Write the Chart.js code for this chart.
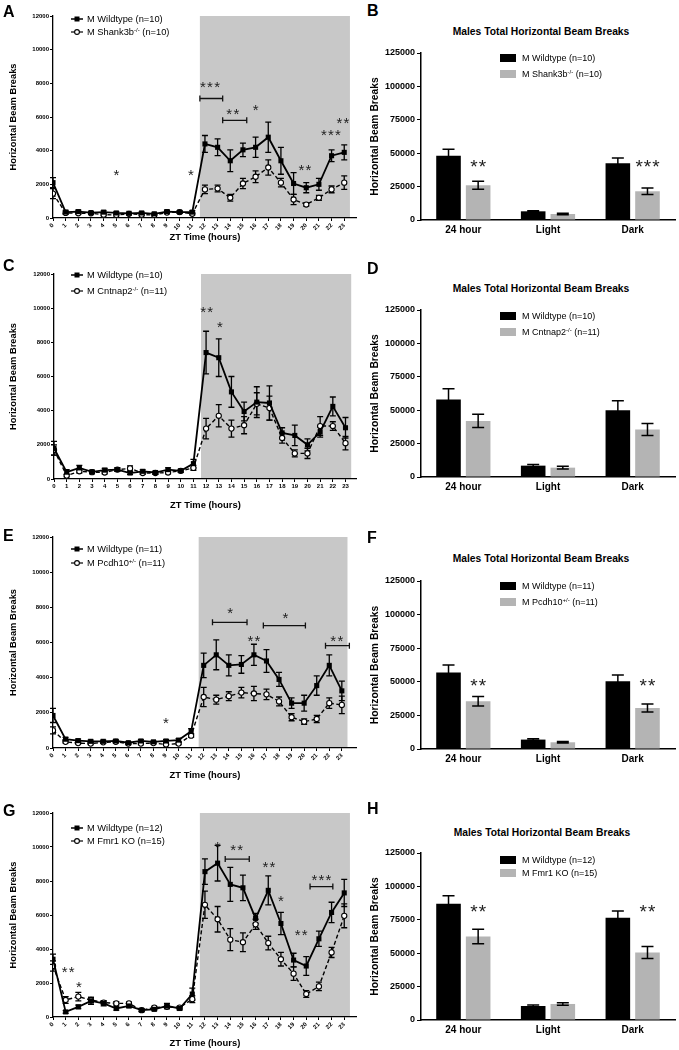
<!DOCTYPE html>
<html>
<head>
<meta charset="utf-8">
<title>Horizontal beam breaks</title>
<script src="https://cdn.jsdelivr.net/npm/chart.js@4.4.1/dist/chart.umd.min.js"></script>
<style>
  body { margin: 0; background: #fff; font-family: 'Liberation Sans', Arial, sans-serif; }
  #page { position: relative; width: 679px; height: 1050px; overflow: hidden; }
  canvas { position: absolute; }
  .letter { position: absolute; font-size: 16px; line-height: 16px; font-weight: bold; }
  .title { position: absolute; font-size: 10.3px; font-weight: bold; white-space: nowrap; transform: translate(-50%, -50%); }
  .leg { position: absolute; height: 12px; line-height: 12px; display: flex; align-items: center; white-space: nowrap; font-size: 9.3px; }
  .leg svg { margin-right: 4px; }
  .bleg { font-size: 9px; }
  .box { width: 16px; height: 8px; margin-right: 6px; }
  sup { font-size: 6px; line-height: 0; vertical-align: 3px; }
</style>
</head>
<body>
<div id="page">
  <canvas id="chartA" width="362" height="248" style="left:0;top:0"></canvas>
  <canvas id="chartC" width="362" height="257" style="left:0;top:258px"></canvas>
  <canvas id="chartE" width="362" height="264" style="left:0;top:521px"></canvas>
  <canvas id="chartG" width="362" height="253" style="left:0;top:797px"></canvas>
  <canvas id="chartB" width="317" height="195" style="left:362px;top:45px"></canvas>
  <canvas id="chartD" width="317" height="195" style="left:362px;top:302px"></canvas>
  <canvas id="chartF" width="317" height="196" style="left:362px;top:573px"></canvas>
  <canvas id="chartH" width="317" height="195" style="left:362px;top:845px"></canvas>

  <div class="letter" style="left:3px;top:4px">A</div>
  <div class="letter" style="left:3px;top:258px">C</div>
  <div class="letter" style="left:3px;top:528px">E</div>
  <div class="letter" style="left:3px;top:803px">G</div>
  <div class="letter" style="left:367px;top:3px">B</div>
  <div class="letter" style="left:367px;top:261px">D</div>
  <div class="letter" style="left:367px;top:530px">F</div>
  <div class="letter" style="left:367px;top:801px">H</div>

  <div class="title" style="left:541px;top:31px">Males Total Horizontal Beam Breaks</div>
  <div class="title" style="left:541px;top:288px">Males Total Horizontal Beam Breaks</div>
  <div class="title" style="left:541px;top:558px">Males Total Horizontal Beam Breaks</div>
  <div class="title" style="left:542px;top:832px">Males Total Horizontal Beam Breaks</div>

  <div id="legends"></div>
</div>

<script>
// ZT hours
const hours = [0, 1, 2, 3, 4, 5, 6, 7, 8, 9, 10, 11, 12, 13, 14, 15, 16, 17, 18, 19, 20, 21, 22, 23];
const darkPhase = [11.6, 23.45, 12000];

// A - Shank3b
const aWt = [2100, 350, 380, 320, 350, 300, 280, 300, 250, 380, 350, 350, 4400, 4200, 3400, 4050, 4200, 4800, 3400, 2050, 1800, 2000, 3700, 3900];
const aWtErr = [300, 100, 80, 60, 70, 80, 60, 60, 60, 80, 70, 80, 500, 500, 650, 400, 600, 900, 800, 650, 300, 350, 350, 450];
const aKo = [1450, 300, 280, 280, 200, 180, 250, 200, 180, 320, 350, 250, 1700, 1750, 1200, 2050, 2450, 3000, 2100, 1100, 800, 1200, 1700, 2100];
const aKoErr = [300, 60, 50, 50, 50, 50, 50, 50, 50, 60, 60, 60, 250, 200, 200, 300, 350, 450, 250, 300, 100, 150, 200, 400];
const aStars = [[5, 2800, '*'], [10.9, 2750, '*'], [12.4, 8000, '***'], [14.2, 6400, '**'], [16, 6650, '*'], [19.9, 3100, '**'], [21.95, 5130, '***'], [22.9, 5880, '**']];
const aBrackets = [[11.6, 13.4, 7100], [13.4, 15.3, 5800]];

// C - Cntnap2
const cWt = [1800, 400, 650, 420, 520, 550, 350, 450, 380, 550, 480, 900, 7400, 7100, 5100, 3950, 4500, 4450, 2700, 2550, 2000, 2750, 4250, 3000];
const cWtErr = [400, 150, 150, 80, 100, 100, 80, 80, 80, 100, 80, 250, 1250, 1100, 900, 550, 900, 1000, 300, 600, 350, 300, 550, 600];
const cKo = [1700, 200, 450, 400, 380, 550, 620, 350, 350, 380, 480, 650, 2950, 3700, 2950, 3150, 4400, 4150, 2400, 1500, 1500, 3100, 3100, 2100];
const cKoErr = [300, 80, 100, 80, 80, 100, 150, 80, 80, 80, 80, 150, 600, 650, 500, 500, 650, 700, 300, 200, 300, 550, 250, 400];
const cStars = [[12.05, 9990, '**'], [13.1, 9110, '*']];
const cBrackets = [];

// E - Pcdh10
const eWt = [1850, 500, 420, 380, 380, 400, 300, 400, 350, 400, 450, 950, 4700, 5300, 4700, 4750, 5300, 4950, 3900, 2550, 2550, 3550, 4700, 3250];
const eWtErr = [400, 100, 80, 70, 70, 70, 60, 70, 60, 80, 80, 150, 700, 850, 600, 500, 600, 650, 400, 300, 450, 550, 600, 550];
const eKo = [1000, 350, 280, 250, 320, 350, 250, 250, 280, 200, 250, 700, 2900, 2750, 2950, 3150, 3100, 3050, 2650, 1750, 1500, 1650, 2550, 2450];
const eKoErr = [200, 60, 50, 50, 50, 50, 50, 50, 50, 50, 50, 100, 550, 250, 250, 300, 400, 300, 250, 200, 150, 200, 300, 500];
const eStars = [[9, 1650, '*'], [14.1, 7870, '*'], [16, 6310, '**'], [18.5, 7620, '*'], [22.6, 6310, '**']];
const eBrackets = [[12.7, 15.45, 7150], [16.75, 20.1, 6960], [21.7, 23.6, 5820]];

// G - Fmr1
const gWt = [3400, 300, 600, 950, 800, 500, 650, 400, 450, 650, 500, 1350, 8550, 9050, 7800, 7600, 5800, 7450, 5500, 3350, 3000, 4600, 6150, 7300];
const gWtErr = [300, 80, 100, 200, 150, 100, 100, 80, 80, 150, 100, 350, 750, 1050, 1000, 750, 300, 850, 650, 400, 550, 450, 600, 800];
const gKo = [3000, 1000, 1200, 1000, 850, 800, 800, 400, 550, 600, 550, 1050, 6600, 5750, 4550, 4400, 5450, 4350, 3400, 2550, 1350, 1800, 3800, 5950];
const gKoErr = [300, 200, 250, 150, 100, 100, 80, 80, 80, 100, 80, 200, 800, 750, 650, 550, 300, 400, 400, 400, 200, 250, 300, 700];
const gStars = [[1.2, 2890, '**'], [2.05, 1970, '*'], [13, 10230, '*'], [14.5, 10030, '**'], [17.05, 9050, '**'], [18, 7040, '*'], [19.6, 5020, '**'], [21.2, 8260, '***']];
const gBrackets = [[13.6, 15.5, 9290], [20.3, 22.1, 7670]];

// totals (bar panels)
const barCats = ['24 hour', 'Light', 'Dark'];
const bWt = [48000, 6500, 42500], bWtErr = [5000, 500, 4000];
const bKo = [26000, 4500, 21500], bKoErr = [3000, 500, 2500];
const bStars = [[0, 43400, '**'], [2, 43400, '***']];
const dWt = [58000, 8500, 50000], dWtErr = [8000, 800, 7000];
const dKo = [42000, 7000, 35500], dKoErr = [5000, 1000, 4500];
const dStars = [];
const fWt = [57000, 7000, 50500], fWtErr = [5500, 600, 4500];
const fKo = [35500, 5000, 30500], fKoErr = [3500, 500, 3000];
const fStars = [[0, 50600, '**'], [2, 50600, '**']];
const hWt = [87000, 10500, 76500], hWtErr = [6000, 800, 5000];
const hKo = [62500, 12000, 50500], hKoErr = [5500, 1000, 4500];
const hStars = [[0, 84600, '**'], [2, 84600, '**']];

Chart.defaults.font.family = "'Liberation Sans', Arial, sans-serif";
Chart.defaults.color = '#000';

function drawErrors(chart, o) {
  const ctx = chart.ctx, y = chart.scales.y;
  ctx.save();
  ctx.strokeStyle = '#000';
  ctx.lineWidth = o.errWidth;
  chart.data.datasets.forEach((ds, i) => {
    if (!ds.errors) return;
    chart.getDatasetMeta(i).data.forEach((el, j) => {
      const d = ds.data[j];
      const v = typeof d === 'object' ? d.y : d;
      const e = ds.errors[j];
      const top = y.getPixelForValue(v + e), bot = y.getPixelForValue(Math.max(v - e, 0));
      ctx.beginPath();
      ctx.moveTo(el.x, top); ctx.lineTo(el.x, bot);
      ctx.moveTo(el.x - o.cap, top); ctx.lineTo(el.x + o.cap, top);
      ctx.moveTo(el.x - o.cap, bot); ctx.lineTo(el.x + o.cap, bot);
      ctx.stroke();
    });
  });
  ctx.restore();
}

function drawMarks(chart, o) {
  const {ctx, scales: {x, y}} = chart;
  ctx.save();
  ctx.fillStyle = '#222';
  ctx.strokeStyle = '#111';
  ctx.lineWidth = 1.3;
  ctx.textAlign = 'center';
  ctx.textBaseline = 'alphabetic';
  ctx.font = o.starSize + "px 'Liberation Sans', Arial, sans-serif";
  ctx.letterSpacing = o.starGap + 'px';
  (o.stars || []).forEach(s => {
    const px = o.barStars ? chart.getDatasetMeta(1).data[s[0]].x : x.getPixelForValue(s[0]);
    ctx.fillText(s[2], px + o.starGap / 2, y.getPixelForValue(s[1]) + o.starSize * 0.58);
  });
  (o.brackets || []).forEach(b => {
    const x1 = x.getPixelForValue(b[0]), x2 = x.getPixelForValue(b[1]), py = y.getPixelForValue(b[2]);
    ctx.beginPath();
    ctx.moveTo(x1, py); ctx.lineTo(x2, py);
    ctx.moveTo(x1, py - 3); ctx.lineTo(x1, py + 3);
    ctx.moveTo(x2, py - 3); ctx.lineTo(x2, py + 3);
    ctx.stroke();
  });
  ctx.restore();
}

const extras = {
  id: 'extras',
  beforeDraw(chart, args, o) {
    if (!o.dark) return;
    const {ctx, scales: {x, y}} = chart;
    const x1 = x.getPixelForValue(o.dark[0]), x2 = x.getPixelForValue(o.dark[1]);
    const y1 = y.getPixelForValue(o.dark[2]), y2 = y.getPixelForValue(0);
    ctx.save();
    ctx.fillStyle = '#c8c8c8';
    ctx.fillRect(x1, y1, x2 - x1, y2 - y1);
    ctx.restore();
  },
  beforeDatasetsDraw(chart, args, o) {
    if (o.errorsFirst) drawErrors(chart, o);
  },
  afterDatasetsDraw(chart, args, o) {
    if (!o.errorsFirst) drawErrors(chart, o);
    drawMarks(chart, o);
  }
};

function lineChart(id, wt, wtErr, ko, koErr, stars, brackets, g) {
  new Chart(document.getElementById(id), {
    type: 'line',
    data: {
      datasets: [{
        label: 'Wildtype',
        data: hours.map((h, i) => ({x: h, y: wt[i]})),
        errors: wtErr,
        borderColor: '#000',
        borderWidth: 1.8,
        pointStyle: 'rect',
        pointRadius: 3.6,
        pointBackgroundColor: '#000',
        pointBorderWidth: 0,
        tension: 0
      }, {
        label: 'KO',
        data: hours.map((h, i) => ({x: h, y: ko[i]})),
        errors: koErr,
        borderColor: '#000',
        borderWidth: 1.4,
        borderDash: [4, 2.5],
        pointStyle: 'circle',
        pointRadius: 2.6,
        pointBackgroundColor: '#fff',
        pointBorderColor: '#000',
        pointBorderWidth: 1.1,
        tension: 0
      }]
    },
    options: {
      responsive: false,
      animation: false,
      devicePixelRatio: 1,
      layout: {padding: {top: 16, right: g.right, left: 0, bottom: 0}},
      plugins: {
        legend: {display: false},
        tooltip: {enabled: false},
        extras: {dark: darkPhase, errorsFirst: true, cap: 3, errWidth: 1.3, stars: stars, brackets: brackets, starSize: 15, starGap: 1.2}
      },
      scales: {
        x: {
          type: 'linear',
          min: 0,
          max: g.xMax,
          afterBuildTicks: s => { s.ticks = s.ticks.filter(t => t.value <= 23); },
          afterFit: s => { s.height = g.xHeight; },
          ticks: {stepSize: 1, includeBounds: false, autoSkip: false, minRotation: g.rot, maxRotation: g.rot, padding: 1, font: {size: 6, weight: 'bold'}, callback: v => String(v)},
          grid: {drawOnChartArea: false, tickLength: 3, color: '#000'},
          border: {color: '#000', width: 1.3},
          title: {display: true, text: 'ZT Time (hours)', font: {size: 9.4, weight: 'bold'}, padding: {top: 0, bottom: g.titlePad}}
        },
        y: {
          min: 0,
          max: 12000,
          afterFit: s => { s.width = g.yWidth; },
          ticks: {stepSize: 2000, padding: 1, font: {size: 6, weight: 'bold'}, callback: v => String(v)},
          grid: {drawOnChartArea: false, tickLength: 3, color: '#000'},
          border: {color: '#000', width: 1.3},
          title: {display: true, text: 'Horizontal Beam Breaks', font: {size: 9.3, weight: 'bold'}, padding: {top: 7.4, bottom: 0}}
        }
      }
    },
    plugins: [extras]
  });
}

function barChart(id, wt, wtErr, ko, koErr, stars) {
  new Chart(document.getElementById(id), {
    type: 'bar',
    data: {
      labels: barCats,
      datasets: [
        {label: 'Wildtype', data: wt, errors: wtErr, backgroundColor: '#000', barPercentage: 0.83, categoryPercentage: 0.7},
        {label: 'KO', data: ko, errors: koErr, backgroundColor: '#b4b4b4', barPercentage: 0.83, categoryPercentage: 0.7}
      ]
    },
    options: {
      responsive: false,
      animation: false,
      devicePixelRatio: 1,
      layout: {padding: {top: 8, right: 4, left: 0, bottom: 0}},
      plugins: {
        legend: {display: false},
        tooltip: {enabled: false},
        extras: {errorsFirst: false, cap: 6, errWidth: 1.5, stars: stars, barStars: true, starSize: 19, starGap: 1}
      },
      scales: {
        x: {
          afterFit: s => { s.height = 20; },
          ticks: {padding: 4, font: {size: 10, weight: 'bold'}},
          grid: {display: false, drawTicks: false},
          border: {color: '#000', width: 1.5}
        },
        y: {
          min: 0,
          max: 125000,
          afterFit: s => { s.width = 59; },
          ticks: {stepSize: 25000, padding: 2, font: {size: 9, weight: 'bold'}, callback: v => String(v)},
          grid: {drawOnChartArea: false, tickLength: 4, color: '#000'},
          border: {color: '#000', width: 1.5},
          title: {display: true, text: 'Horizontal Beam Breaks', font: {size: 10.3, weight: 'bold'}, padding: {top: 6.8, bottom: 0}}
        }
      }
    },
    plugins: [extras]
  });
}

lineChart('chartA', aWt, aWtErr, aKo, aKoErr, aStars, aBrackets, {right: 4, yWidth: 53, xHeight: 30, xMax: 24, rot: 45, titlePad: 5});
lineChart('chartC', cWt, cWtErr, cKo, cKoErr, cStars, cBrackets, {right: 3, yWidth: 54, xHeight: 36, xMax: 23.9, rot: 0, titlePad: 4.4});
lineChart('chartE', eWt, eWtErr, eKo, eKoErr, eStars, eBrackets, {right: 4, yWidth: 53, xHeight: 37, xMax: 24.2, rot: 45, titlePad: 4.4});
lineChart('chartG', gWt, gWtErr, gKo, gKoErr, gStars, gBrackets, {right: 4, yWidth: 53, xHeight: 33, xMax: 24, rot: 45, titlePad: 1.4});

barChart('chartB', bWt, bWtErr, bKo, bKoErr, bStars);
barChart('chartD', dWt, dWtErr, dKo, dKoErr, dStars);
barChart('chartF', fWt, fWtErr, fKo, fKoErr, fStars);
barChart('chartH', hWt, hWtErr, hKo, hKoErr, hStars);

// legends
const wtIcon = '<svg width="12" height="8"><line x1="0" y1="4" x2="12" y2="4" stroke="#000" stroke-width="1.5"/><rect x="3.5" y="1.5" width="5" height="5" fill="#000"/></svg>';
const koIcon = '<svg width="12" height="8"><line x1="0" y1="4" x2="12" y2="4" stroke="#000" stroke-width="1.2"/><circle cx="6" cy="4" r="2.4" fill="#fff" stroke="#000" stroke-width="1.1"/></svg>';
const lineLegends = [
  [13, 'M Wildtype (n=10)', 'M Shank3b<sup>-/-</sup> (n=10)', 26],
  [269, 'M Wildtype (n=10)', 'M Cntnap2<sup>-/-</sup> (n=11)', 285],
  [543, 'M Wildtype (n=11)', 'M Pcdh10<sup>+/-</sup> (n=11)', 557],
  [822, 'M Wildtype (n=12)', 'M Fmr1 KO (n=15)', 835]
];
const barLegends = [
  [52, 'M Wildtype (n=10)', 'M Shank3b<sup>-/-</sup> (n=10)', 68],
  [310, 'M Wildtype (n=10)', 'M Cntnap2<sup>-/-</sup> (n=11)', 326],
  [580, 'M Wildtype (n=11)', 'M Pcdh10<sup>+/-</sup> (n=11)', 596],
  [854, 'M Wildtype (n=12)', 'M Fmr1 KO (n=15)', 867]
];
let html = '';
lineLegends.forEach(l => {
  html += `<div class="leg" style="left:71px;top:${l[0]}px">${wtIcon}<span>${l[1]}</span></div>`;
  html += `<div class="leg" style="left:71px;top:${l[3]}px">${koIcon}<span>${l[2]}</span></div>`;
});
barLegends.forEach(l => {
  html += `<div class="leg bleg" style="left:500px;top:${l[0]}px"><div class="box" style="background:#000"></div><span>${l[1]}</span></div>`;
  html += `<div class="leg bleg" style="left:500px;top:${l[3]}px"><div class="box" style="background:#b4b4b4"></div><span>${l[2]}</span></div>`;
});
document.getElementById('legends').innerHTML = html;
</script>
</body>
</html>
